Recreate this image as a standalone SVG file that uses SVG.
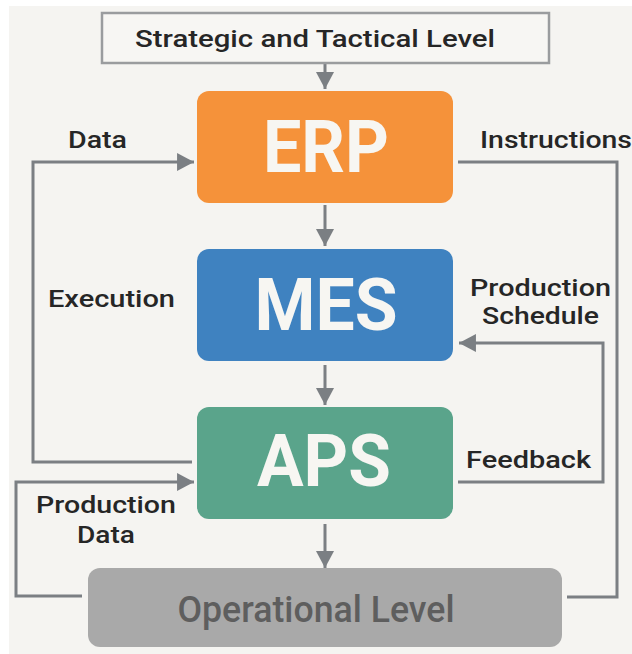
<svg xmlns="http://www.w3.org/2000/svg" width="632" height="654" viewBox="0 0 632 654">
<style>
.lbl{font-family:Roboto,"Liberation Sans",Arial,sans-serif;font-weight:500;fill:#262626;font-size:24.5px}
.big{font-family:Roboto,"Liberation Sans",Arial,sans-serif;font-weight:700;fill:#f7f6f2;font-size:73px;text-anchor:middle}
.conn{fill:none;stroke:#7b7f83;stroke-width:3}
</style>
<defs>
<marker id="ah" markerUnits="userSpaceOnUse" markerWidth="18" markerHeight="18" viewBox="0 0 16 17" refX="16" refY="8.5" orient="auto">
<path d="M0,0 L16,8.5 L0,17 Z" fill="#7b7f83"/>
</marker>
</defs>
<rect width="632" height="654" fill="#ffffff"/>
<rect x="9" y="6" width="623" height="648" fill="#f5f4f1"/>

<g id="connectors">
<path class="conn" d="M325,63 V89" marker-end="url(#ah)"/>
<path class="conn" d="M325,205 V246" marker-end="url(#ah)"/>
<path class="conn" d="M325,365 V405" marker-end="url(#ah)"/>
<path class="conn" d="M325,524 V568" marker-end="url(#ah)"/>
<path class="conn" d="M192,462 H33 V162 H194" marker-end="url(#ah)"/>
<path class="conn" d="M458,162 H617 V597 H567"/>
<path class="conn" d="M458,482 H603 V343 H459" marker-end="url(#ah)"/>
<path class="conn" d="M82,596 H16 V482 H194" marker-end="url(#ah)"/>
</g>

<g id="strategic">
<rect x="102" y="13" width="447" height="50" fill="#f7f6f3" stroke="#9a9c9e" stroke-width="2.5"/>
<text class="lbl" x="315" y="47" text-anchor="middle" font-size="27" textLength="360" lengthAdjust="spacingAndGlyphs">Strategic and Tactical Level</text>
</g>

<g id="erp">
<rect x="197" y="91" width="256" height="112" rx="12" fill="#f5923a"/>
<text class="big" x="326" y="172" textLength="126" lengthAdjust="spacingAndGlyphs">ERP</text>
</g>

<g id="mes">
<rect x="197" y="249" width="256" height="112" rx="12" fill="#3f82c0"/>
<text class="big" x="326" y="330" textLength="143" lengthAdjust="spacingAndGlyphs">MES</text>
</g>

<g id="aps">
<rect x="197" y="407" width="256" height="112" rx="12" fill="#5aa48b"/>
<text class="big" x="324" y="486" textLength="134" lengthAdjust="spacingAndGlyphs">APS</text>
</g>

<g id="operational">
<rect x="88" y="568" width="474" height="79" rx="12" fill="#a9a9a9"/>
<text x="316" y="622" text-anchor="middle" font-family="Roboto,'Liberation Sans',Arial,sans-serif" font-weight="500" font-size="37" fill="#5e5e5e" textLength="277" lengthAdjust="spacingAndGlyphs">Operational Level</text>
</g>

<g id="labels">
<text class="lbl" x="68" y="148" textLength="59" lengthAdjust="spacingAndGlyphs">Data</text>
<text class="lbl" x="480" y="148" textLength="152" lengthAdjust="spacingAndGlyphs">Instructions</text>
<text class="lbl" x="48" y="307" textLength="127" lengthAdjust="spacingAndGlyphs">Execution</text>
<text class="lbl" x="470" y="296" textLength="141" lengthAdjust="spacingAndGlyphs">Production</text>
<text class="lbl" x="482" y="324" textLength="117" lengthAdjust="spacingAndGlyphs">Schedule</text>
<text class="lbl" x="466" y="468" textLength="125" lengthAdjust="spacingAndGlyphs">Feedback</text>
<text class="lbl" x="36" y="513" textLength="140" lengthAdjust="spacingAndGlyphs">Production</text>
<text class="lbl" x="77" y="543" textLength="58" lengthAdjust="spacingAndGlyphs">Data</text>
</g>
</svg>
